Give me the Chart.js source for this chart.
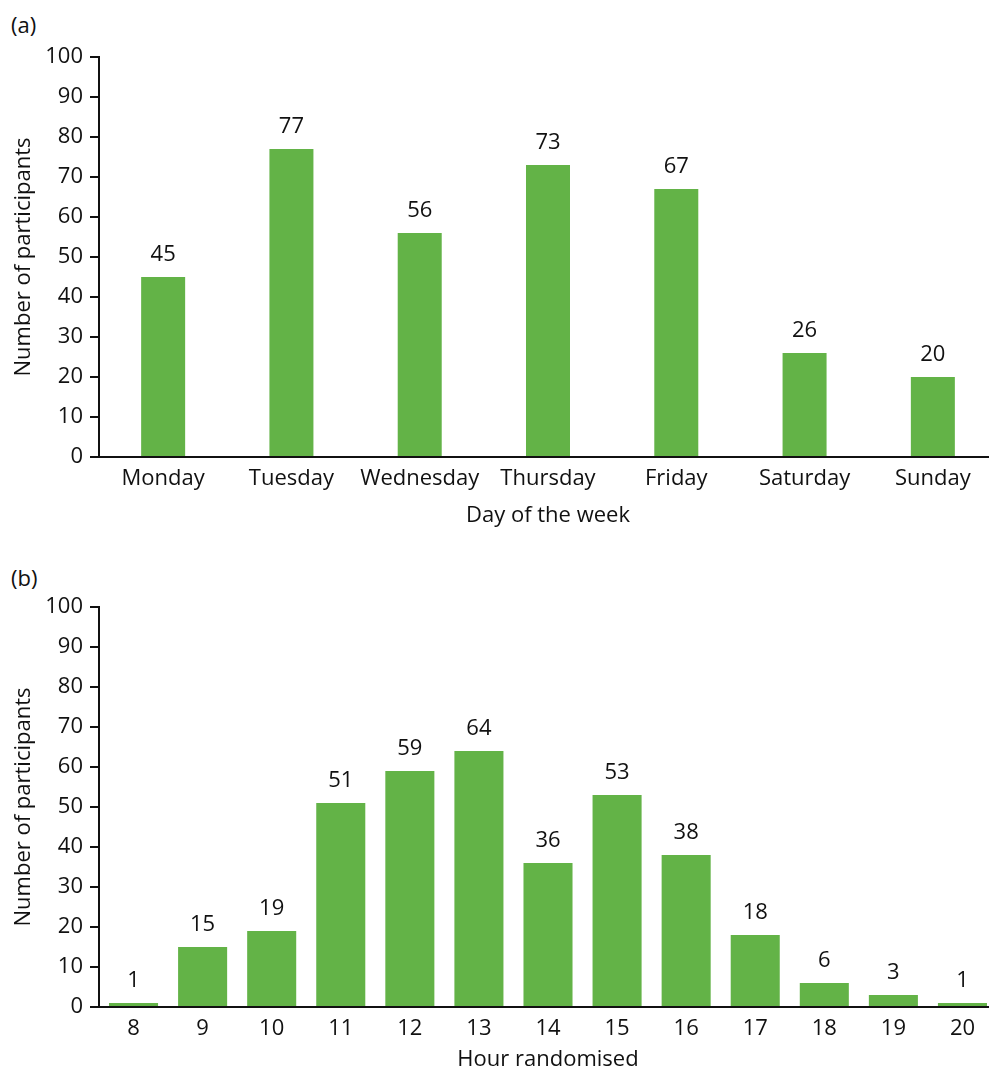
<!DOCTYPE html>
<html>
<head>
<meta charset="utf-8">
<script src="https://cdn.jsdelivr.net/npm/chart.js@4.4.1/dist/chart.umd.min.js"></script>
<style>
  html, body { margin: 0; padding: 0; background: #fff; width: 989px; height: 1070px; overflow: hidden; }
  .wrap { position: absolute; left: 0; width: 1000px; }
  .panel { position: absolute; left: 11px; font-family: "Open Sans", sans-serif; font-size: 22px; color: #111; }
</style>
</head>
<body>
<div class="panel" style="top:9px;">(a)</div>
<div class="wrap" style="top:0px;height:530px;"><canvas id="ca"></canvas></div>
<div class="panel" style="top:562px;">(b)</div>
<div class="wrap" style="top:550px;height:523px;"><canvas id="cb"></canvas></div>
<script>
const dayLabels = ["Monday", "Tuesday", "Wednesday", "Thursday", "Friday", "Saturday", "Sunday"];
const dayValues = [45, 77, 56, 73, 67, 26, 20];
const hourLabels = ["8", "9", "10", "11", "12", "13", "14", "15", "16", "17", "18", "19", "20"];
const hourValues = [1, 15, 19, 51, 59, 64, 36, 53, 38, 18, 6, 3, 1];
const yTicks = [0, 10, 20, 30, 40, 50, 60, 70, 80, 90, 100];

const FONT = "'Open Sans', sans-serif";
const GREEN = "#63b347";
const INK = "#111111";

const valueLabels = {
  id: "valueLabels",
  afterDatasetsDraw(chart) {
    const ctx = chart.ctx;
    const meta = chart.getDatasetMeta(0);
    const data = chart.data.datasets[0].data;
    ctx.save();
    ctx.font = "22px " + FONT;
    ctx.fillStyle = INK;
    ctx.textAlign = "center";
    ctx.textBaseline = "alphabetic";
    meta.data.forEach((bar, i) => {
      ctx.fillText(String(data[i]), bar.x, bar.y - 16);
    });
    ctx.restore();
  }
};

function makeChart(id, labels, values, barPct, xTitle, xHeight, titleBottomPad) {
  return new Chart(document.getElementById(id), {
    type: "bar",
    data: {
      labels: labels,
      datasets: [{
        data: values,
        backgroundColor: GREEN,
        borderWidth: 0,
        barPercentage: barPct,
        categoryPercentage: 1.0
      }]
    },
    options: {
      responsive: true,
      maintainAspectRatio: false,
      animation: false,
      devicePixelRatio: 1,
      layout: { padding: { top: 57, right: 3, left: 0, bottom: 0 } },
      plugins: { legend: { display: false }, tooltip: { enabled: false } },
      scales: {
        x: {
          offset: true,
          grid: { display: false, drawTicks: false },
          border: { display: true, color: INK, width: 2 },
          ticks: { color: INK, font: { family: FONT, size: 22 }, padding: 9, maxRotation: 0, autoSkip: false },
          title: { display: true, text: xTitle, color: INK, font: { family: FONT, size: 22 }, padding: { top: 0, bottom: titleBottomPad } },
          afterFit(scale) { scale.height = xHeight; }
        },
        y: {
          min: 0, max: 100,
          afterBuildTicks(scale) { scale.ticks = yTicks.map(v => ({ value: v })); },
          grid: { display: true, drawOnChartArea: false, drawTicks: true, tickLength: 9, color: INK, lineWidth: 2 },
          border: { display: true, color: INK, width: 2 },
          ticks: { color: INK, font: { family: FONT, size: 22 }, padding: 7 },
          title: { display: true, text: "Number of participants", color: INK, font: { family: FONT, size: 22 }, padding: { top: 11, bottom: 0 } },
          afterFit(scale) { scale.width = 99; }
        }
      }
    },
    plugins: [valueLabels]
  });
}

makeChart("ca", dayLabels, dayValues, 0.343, "Day of the week", 73, 1);
makeChart("cb", hourLabels, hourValues, 0.71, "Hour randomised", 66, 0);
</script>
</body>
</html>
